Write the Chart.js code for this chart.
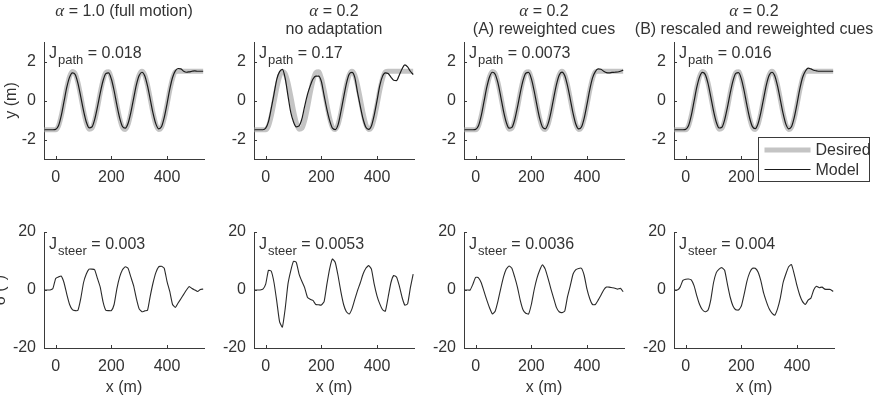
<!DOCTYPE html>
<html>
<head>
<meta charset="utf-8">
<script src="https://cdn.jsdelivr.net/npm/chart.js@4.4.0/dist/chart.umd.min.js"></script>
<style>
  html, body { margin: 0; background: #fff; }
  body { position: relative; width: 873px; height: 402px; overflow: hidden; }
  canvas { position: absolute; }
</style>
</head>
<body>
<script>
// longitudinal position x (m), sampled every 10 m
const xs = [-40, -30, -20, -10, 0, 10, 20, 30, 40, 50,
            60, 70, 80, 90, 100, 110, 120, 130, 140, 150,
            160, 170, 180, 190, 200, 210, 220, 230, 240, 250,
            260, 270, 280, 290, 300, 310, 320, 330, 340, 350,
            360, 370, 380, 390, 400, 410, 420, 430, 440, 450,
            460, 470, 480, 490, 500, 510, 520, 530];

const xTicks = [0, 200, 400];
const pathTicks = [-2, 0, 2];
const steerTicks = [-20, 0, 20];

// desired lateral path y (m)
const desired = [-1.5, -1.5, -1.5, -1.5, -1.5, -1.31, -0.79, -0.08, 0.66, 1.23,
                 1.49, 1.38, 0.92, 0.23, -0.52, -1.13, -1.48, -1.43, -1.03, -0.38,
                 0.38, 1.03, 1.43, 1.47, 1.14, 0.52, -0.23, -0.92, -1.38, -1.49,
                 -1.23, -0.66, 0.08, 0.79, 1.31, 1.5, 1.31, 0.79, 0.08, -0.66,
                 -1.23, -1.49, -1.38, -0.92, -0.23, 0.52, 1.13, 1.47, 1.5, 1.5,
                 1.5, 1.5, 1.5, 1.5, 1.5, 1.5, 1.5, 1.5];

// model path y (m) per condition
const pathFull = [-1.5, -1.5, -1.5, -1.5, -1.48, -1.3, -0.78, -0.05, 0.68, 1.2,
                  1.42, 1.33, 0.88, 0.2, -0.52, -1.1, -1.4, -1.36, -0.98, -0.34,
                  0.38, 1.0, 1.38, 1.42, 1.1, 0.5, -0.24, -0.9, -1.33, -1.42,
                  -1.18, -0.62, 0.1, 0.8, 1.28, 1.45, 1.27, 0.75, 0.05, -0.66,
                  -1.2, -1.45, -1.35, -0.88, -0.18, 0.58, 1.18, 1.52, 1.64, 1.62,
                  1.5, 1.45, 1.47, 1.5, 1.52, 1.5, 1.5, 1.5];
const pathNoAdapt = [-1.5, -1.5, -1.5, -1.5, -1.42, -1.08, -0.4, 0.34, 1.1, 1.48,
                     1.6, 1.15, 0.25, -0.6, -1.1, -1.35, -1.3, -0.95, -0.3, 0.3,
                     0.75, 1.1, 1.25, 1.25, 0.98, 0.25, -0.45, -1.03, -1.42, -1.49,
                     -1.25, -0.6, 0.15, 0.87, 1.35, 1.44, 1.2, 0.42, -0.3, -0.95,
                     -1.37, -1.48, -1.3, -0.75, -0.02, 0.76, 1.25, 1.42, 1.38, 1.2,
                     1.04, 1.02, 1.3, 1.62, 1.83, 1.72, 1.5, 1.33];
const pathReweighted = [-1.5, -1.5, -1.5, -1.5, -1.48, -1.3, -0.78, -0.05, 0.68, 1.22,
                        1.45, 1.35, 0.9, 0.2, -0.54, -1.12, -1.42, -1.38, -1.0, -0.35,
                        0.38, 1.02, 1.4, 1.44, 1.12, 0.5, -0.24, -0.92, -1.36, -1.45,
                        -1.2, -0.63, 0.1, 0.8, 1.3, 1.46, 1.28, 0.76, 0.06, -0.66,
                        -1.22, -1.46, -1.36, -0.9, -0.2, 0.56, 1.16, 1.48, 1.62, 1.6,
                        1.5, 1.43, 1.42, 1.44, 1.45, 1.46, 1.5, 1.56];
const pathRescaled = [-1.5, -1.5, -1.5, -1.5, -1.48, -1.3, -0.78, -0.05, 0.68, 1.21,
                      1.44, 1.34, 0.89, 0.2, -0.53, -1.11, -1.41, -1.37, -0.99, -0.35,
                      0.38, 1.01, 1.39, 1.43, 1.11, 0.5, -0.24, -0.91, -1.34, -1.44,
                      -1.19, -0.62, 0.1, 0.8, 1.29, 1.45, 1.27, 0.75, 0.05, -0.66,
                      -1.21, -1.45, -1.35, -0.88, -0.18, 0.58, 1.18, 1.5, 1.66, 1.62,
                      1.55, 1.52, 1.5, 1.5, 1.5, 1.5, 1.5, 1.5];

// steering angle (deg) per condition
const steerFull = [0, 0, 0, 0.5, 4.0, 4.5, 4.8, 2.5, -1.5, -5,
                   -6.8, -7.1, -7, -3, 2.5, 5.5, 7.2, 7.2, 7, 4,
                   1, -4, -7, -7.1, -7.1, -5, 0.5, 4.5, 7, 8,
                   7.5, 4.5, 1.5, -3, -6.5, -7.5, -7.2, -7, -2, 2.5,
                   6, 8, 8.2, 7.5, 3, -0.5, -5, -6, -4.5, -3,
                   -1.5, 0, 1.2, 0.5, 0, -0.5, 0.2, 0.3];
const steerNoAdapt = [0, 0, 0, 0.3, 2, 6.8, 6.5, 2.5, -4, -11,
                      -12.8, -6.5, 2, 6.6, 9.9, 9.5, 5.5, 3, 0.8, -2.5,
                      -3.2, -3.6, -5, -5.1, -5.2, -4, 2, 7.4, 10.7, 9.5,
                      5, -0.5, -5, -7.5, -8.3, -6.5, -3.3, -0.2, 2.5, 5.5,
                      7.5, 8.4, 7.2, 2, -2, -4.8, -6.8, -7.3, -2.5, 2.5,
                      5, 4.5, 1.5, -2.5, -5.2, -4.8, 0.8, 5.5];
const steerReweighted = [0, 0, 0, 2, 4.4, 4.2, 2.5, -0.5, -3.5, -6.2,
                         -8.3, -7.3, -3.8, 0.5, 4.5, 7.2, 8.3, 7.5, 4.5, 1,
                         -3.5, -6.8, -8, -8.3, -5, 0, 4, 6.8, 8.7, 7.2,
                         4, 0.5, -2.8, -6, -7.5, -7.8, -7.3, -2.3, 1.5, 5.5,
                         7, 7.4, 7.5, 5, 0.3, -3, -5, -5, -3.5, -1.8,
                         0, 1, 1, 0.8, 0.6, 0.3, 0.6, -0.6];
const steerRescaled = [0, 0, 1, 3.3, 3.7, 3.8, 3.5, 1.5, -2, -5,
                       -6.8, -7.5, -7, -3.5, 2.5, 6, 7.2, 7.7, 6.8, 2,
                       -2.5, -5.5, -6.8, -6.9, -5.5, -1.5, 3, 6, 7.5, 7.5,
                       6.2, 3.2, -1, -4, -6.5, -8, -8.7, -6.5, -2.8, 2.5,
                       5.5, 8, 8.8, 5.5, 1.5, -1.8, -4, -5, -3.5, -2.8,
                       0, 1.3, 0.8, 1, 0.3, 0.2, 0.2, -0.5];

const titles = [
  ['α = 1.0 (full motion)'],
  ['α = 0.2', 'no adaptation'],
  ['α = 0.2', '(A) reweighted cues'],
  ['α = 0.2', '(B) rescaled and reweighted cues']
];
const jPath = ['0.018', '0.17', '0.0073', '0.016'];
const jSteer = ['0.003', '0.0053', '0.0036', '0.004'];
const paths = [pathFull, pathNoAdapt, pathReweighted, pathRescaled];
const steers = [steerFull, steerNoAdapt, steerReweighted, steerRescaled];

const FAM = '"Liberation Sans", Arial, sans-serif';
const TXT = '#333333';
const AX = '#3a3a3a';
const FS = 16;
const pts = arr => xs.map((x, i) => ({x: x, y: arr[i]}));

// titles, J labels, inward tick marks and legend box
const annot = {
  id: 'annot',
  afterDraw(chart, args, o) {
    const ctx = chart.ctx, a = chart.chartArea;
    const xsc = chart.scales.x, ysc = chart.scales.y;
    ctx.save();
    ctx.strokeStyle = AX;
    ctx.lineWidth = 1;
    ctx.beginPath();
    xsc.ticks.forEach(t => {
      const p = Math.round(xsc.getPixelForValue(t.value)) + 0.5;
      ctx.moveTo(p, a.bottom); ctx.lineTo(p, a.bottom - 3);
    });
    ysc.ticks.forEach(t => {
      const p = Math.round(ysc.getPixelForValue(t.value)) + 0.5;
      ctx.moveTo(a.left, p); ctx.lineTo(a.left + 3, p);
    });
    ctx.stroke();

    ctx.fillStyle = TXT;
    ctx.textBaseline = 'alphabetic';
    ctx.textAlign = 'left';
    const cx = (a.left + a.right) / 2;
    (o.title || []).forEach((line, i) => {
      const y = i === 0 ? 16 : 34;
      if (line.startsWith('α')) {
        const rest = line.slice(1);
        ctx.font = 'italic 17px "Liberation Serif", serif';
        const wa = ctx.measureText('α').width;
        ctx.font = FS + 'px ' + FAM;
        const wr = ctx.measureText(rest).width;
        const x = cx - (wa + wr) / 2;
        ctx.font = 'italic 17px "Liberation Serif", serif';
        ctx.fillText('α', x, y);
        ctx.font = FS + 'px ' + FAM;
        ctx.fillText(rest, x + wa, y);
      } else {
        ctx.font = FS + 'px ' + FAM;
        ctx.textAlign = 'center';
        ctx.fillText(line, cx, y);
        ctx.textAlign = 'left';
      }
    });

    if (o.j) {
      let x = a.left + 5;
      const y = a.top + o.jDy;
      ctx.font = FS + 'px ' + FAM;
      ctx.fillText('J', x, y);
      x += ctx.measureText('J').width + 1;
      ctx.font = '13px ' + FAM;
      ctx.fillText(o.jSub, x, y + 6);
      x += ctx.measureText(o.jSub).width;
      ctx.font = FS + 'px ' + FAM;
      ctx.fillText(' = ' + o.j, x, y);
    }

    if (o.legend) {
      const ds = chart.data.datasets;
      const bx = 128.5, by = 137.5, bw = 111, bh = 44;
      ctx.fillStyle = '#fff';
      ctx.fillRect(bx, by, bw, bh);
      ctx.strokeStyle = AX;
      ctx.lineWidth = 1;
      ctx.strokeRect(bx, by, bw, bh);
      const rows = [ds[1], ds[0]];
      rows.forEach((d, i) => {
        const y = by + 12.5 + i * 19.5;
        ctx.strokeStyle = d.borderColor;
        ctx.lineWidth = d.borderWidth;
        ctx.beginPath();
        ctx.moveTo(bx + 6, y); ctx.lineTo(bx + 52, y);
        ctx.stroke();
        ctx.fillStyle = TXT;
        ctx.font = FS + 'px ' + FAM;
        ctx.textBaseline = 'middle';
        ctx.fillText(d.label, bx + 57, y + 1);
      });
    }
    ctx.restore();
  }
};

function makeChart(col, row, datasets, yTicks, yMin, yMax, extra, yTitle, xTitle) {
  const cv = document.createElement('canvas');
  const w = col === 3 ? 243 : 210, h = row ? 202 : 200;
  cv.width = w; cv.height = h;
  cv.style.left = (col * 210) + 'px';
  cv.style.top = (row ? 200 : 0) + 'px';
  document.body.appendChild(cv);
  const plotTop = row ? 32 : 42, plotBottom = row ? 148 : 159;
  new Chart(cv, {
    type: 'line',
    data: { datasets: datasets },
    options: {
      responsive: false,
      animation: false,
      devicePixelRatio: 1,
      layout: { padding: { left: 0, top: plotTop, right: w - 204, bottom: 0 } },
      elements: { point: { radius: 0 } },
      plugins: { legend: { display: false }, tooltip: { enabled: false }, annot: extra },
      scales: {
        x: {
          type: 'linear', min: -42, max: 533,
          afterBuildTicks: s => { s.ticks = xTicks.map(v => ({ value: v })); },
          afterFit: s => { s.height = h - plotBottom; },
          grid: { display: false, drawTicks: false },
          border: { display: true, color: AX, width: 1 },
          ticks: { color: TXT, font: { family: FAM, size: FS }, padding: 9, maxRotation: 0 },
          title: xTitle ? { display: true, text: xTitle, color: TXT, font: { family: FAM, size: FS }, padding: { top: 0, bottom: 5 } } : { display: false }
        },
        y: {
          type: 'linear', min: yMin, max: yMax,
          afterBuildTicks: s => { s.ticks = yTicks.map(v => ({ value: v })); },
          afterFit: s => { s.width = 44; },
          grid: { display: false, drawTicks: false },
          border: { display: true, color: AX, width: 1 },
          ticks: { color: TXT, font: { family: FAM, size: FS }, padding: 8 },
          title: yTitle ? { display: true, text: yTitle.text, color: TXT, font: { family: FAM, size: FS }, padding: { top: yTitle.pad, bottom: 0 } } : { display: false }
        }
      }
    },
    plugins: [annot]
  });
}

for (let c = 0; c < 4; c++) {
  makeChart(c, 0, [
    { label: 'Model', data: pts(paths[c]), borderColor: '#1a1a1a', borderWidth: 1.2, cubicInterpolationMode: 'monotone', fill: false },
    { label: 'Desired', data: pts(desired), borderColor: '#c4c4c4', borderWidth: 5, cubicInterpolationMode: 'monotone', fill: false }
  ], pathTicks, -3, 3,
  { title: titles[c], j: jPath[c], jSub: 'path', jDy: 16, legend: c === 3 },
  c === 0 ? { text: 'y (m)', pad: 2 } : null, null);

  makeChart(c, 1, [
    { label: 'Model', data: pts(steers[c]), borderColor: '#2a2a2a', borderWidth: 1.1, tension: 0.15, fill: false }
  ], steerTicks, -20, 20,
  { j: jSteer[c], jSub: 'steer', jDy: 17 },
  c === 0 ? { text: 'δ (°)', pad: -9 } : null, 'x (m)');
}
</script>
</body>
</html>
